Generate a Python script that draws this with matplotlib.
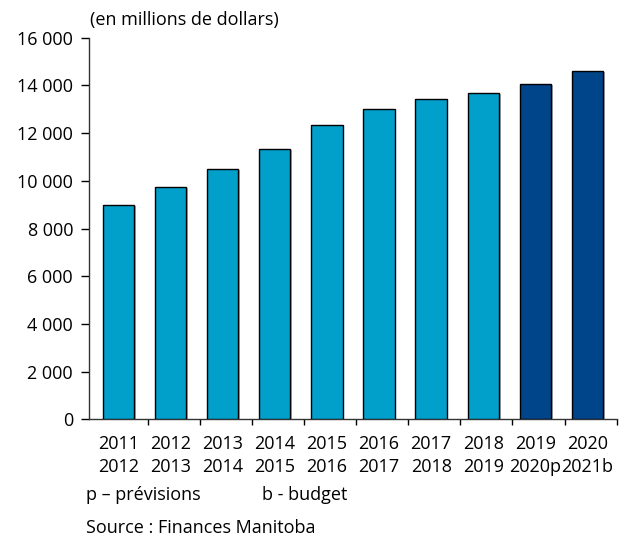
import matplotlib
matplotlib.use("Agg")
import matplotlib.pyplot as plt
import matplotlib.patheffects as pe

categories = ["2011\n2012", "2012\n2013", "2013\n2014", "2014\n2015", "2015\n2016",
              "2016\n2017", "2017\n2018", "2018\n2019", "2019\n2020p", "2020\n2021b"]
values = [9000, 9750, 10500, 11350, 12360, 13000, 13450, 13700, 14070, 14600]
kinds = ["actual"] * 8 + ["forecast", "budget"]
yticks = [0, 2000, 4000, 6000, 8000, 10000, 12000, 14000, 16000]
ytick_labels = ["0", "2 000", "4 000", "6 000", "8 000", "10 000", "12 000", "14 000", "16 000"]

light = "#00A0CB"
dark = "#00448A"
colors = [light if k == "actual" else dark for k in kinds]

plt.rcParams['font.family'] = ['Open Sans', 'DejaVu Sans']
FS = 13

fig = plt.figure(figsize=(6.28, 5.40), dpi=100)
ax = fig.add_axes([0.142, 0.2235, 0.840, 0.7065])

x = list(range(len(categories)))
xc = [i - 0.06 for i in x]
bars = ax.bar(xc, values, width=0.6, color=colors, edgecolor="black", linewidth=1.0,
              zorder=3)
for b in bars:
    b.set_path_effects([pe.SimplePatchShadow(offset=(1.2, -0.8), shadow_rgbFace="#9a9a9a", alpha=0.8),
                        pe.Normal()])

ax.set_xlim(-0.62, 9.5)
ax.set_ylim(0, 16000)
ax.set_yticks(yticks)
ax.set_yticklabels(ytick_labels, fontsize=FS)
ax.tick_params(axis="y", direction="out", length=5.8, width=1, pad=5.8, colors="black")

ax.set_xticks([i + 0.5 for i in x])
ax.set_xticklabels([])
ax.tick_params(axis="x", direction="out", length=4.5, width=1)

def fy(py):
    return 1 - py / 540

for xi, lab in zip(xc, categories):
    l1, l2 = lab.split("\n")
    xf = fig.transFigure.inverted().transform(ax.transData.transform((xi, 0)))[0]
    fig.text(xf, fy(449), l1, ha="center", va="baseline", fontsize=FS)
    fig.text(xf, fy(472), l2, ha="center", va="baseline", fontsize=FS)

for s in ["top", "right"]:
    ax.spines[s].set_visible(False)
for s in ["left", "bottom"]:
    ax.spines[s].set_linewidth(1.0)
    ax.spines[s].set_color("#333333")

fig.text(90 / 628, fy(25), "(en millions de dollars)", fontsize=FS, ha="left", va="baseline")
fig.text(86 / 628, fy(500), "p – prévisions", fontsize=FS, ha="left", va="baseline")
fig.text(262 / 628, fy(500), "b - budget", fontsize=FS, ha="left", va="baseline")
fig.text(86 / 628, fy(533), "Source : Finances Manitoba", fontsize=FS, ha="left", va="baseline")

fig.savefig("out.png", dpi=100)
